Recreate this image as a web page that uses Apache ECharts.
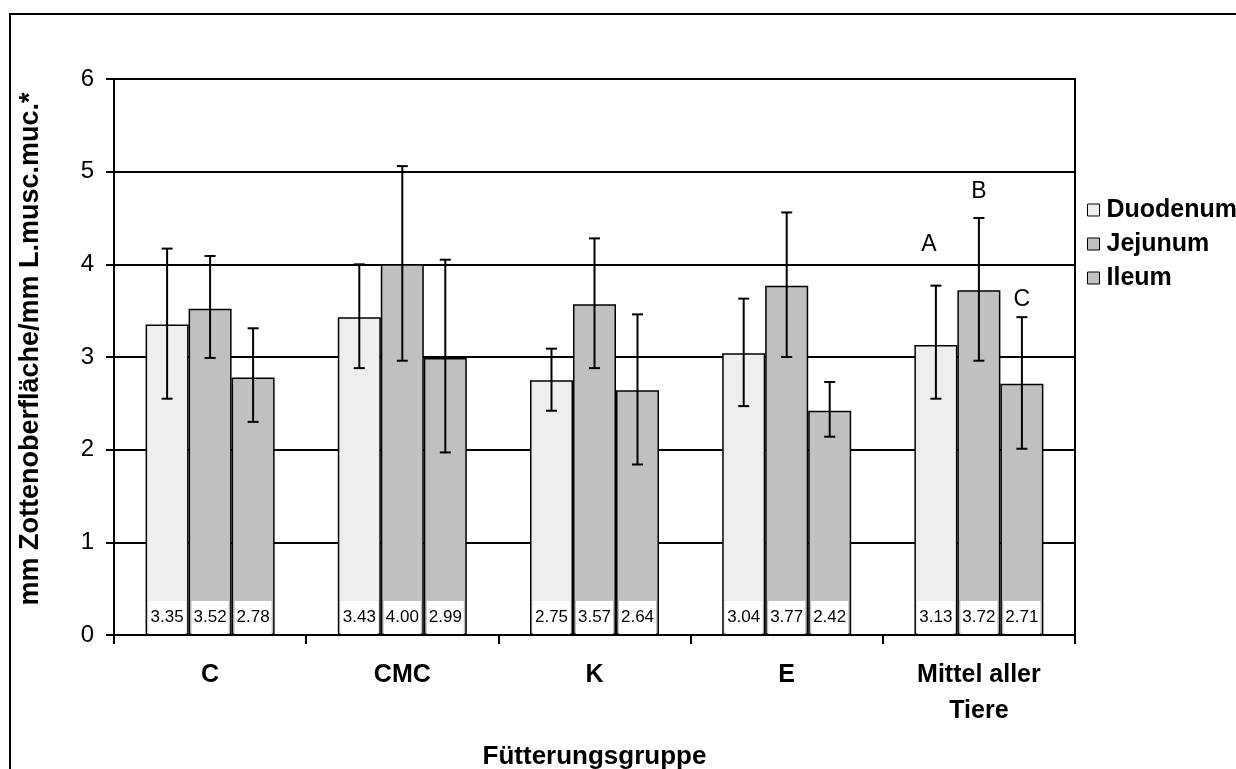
<!DOCTYPE html>
<html>
<head>
<meta charset="utf-8">
<script src="https://cdn.jsdelivr.net/npm/echarts@6/dist/echarts.min.js"></script>
<style>html,body{margin:0;padding:0;background:#fff}#c{width:1236px;height:769px}</style>
</head>
<body>
<div id="c"></div>
<script>
const categories = ['C', 'CMC', 'K', 'E', 'Mittel aller\nTiere'];
const seriesNames = ['Duodenum', 'Jejunum', 'Ileum'];
const duodenum = [3.35, 3.43, 2.75, 3.04, 3.13];
const jejunum  = [3.52, 4.00, 3.57, 3.77, 3.72];
const ileum    = [2.78, 2.99, 2.64, 2.42, 2.71];
// error bar ends (lower, upper)
const duodenumErr = [[2.55, 4.17], [2.88, 4.00], [2.42, 3.09], [2.47, 3.63], [2.55, 3.77]];
const jejunumErr  = [[2.99, 4.09], [2.96, 5.06], [2.88, 4.28], [3.00, 4.56], [2.96, 4.50]];
const ileumErr    = [[2.30, 3.31], [1.97, 4.05], [1.84, 3.46], [2.14, 2.73], [2.01, 3.43]];
// significance letters for "Mittel aller Tiere"
const sigLetters = ['A', 'B', 'C'];
const sigValues = [4.21, 4.78, 3.62];
const yTicks = [0, 1, 2, 3, 4, 5, 6];

const FONT = 'Liberation Sans, Arial, sans-serif';
const BAR_W = 43;
const colors = ['#eeeeee', '#c0c0c0', '#c0c0c0'];
const values = [duodenum, jejunum, ileum];
const errs = [duodenumErr, jejunumErr, ileumErr];

const barSeries = seriesNames.map((n, i) => ({
  name: n,
  type: 'bar',
  barWidth: BAR_W,
  barGap: '0%',
  data: values[i],
  itemStyle: { color: colors[i], borderColor: '#000', borderWidth: 1.5 },
  label: {
    show: true,
    position: 'insideBottom',
    distance: 1,
    formatter: p => p.value.toFixed(2),
    backgroundColor: '#fff',
    width: 37,
    height: 33,
    lineHeight: 33,
    align: 'center',
    fontSize: 17,
    fontFamily: FONT,
    color: '#000'
  },
  z: 2
}));

const errSeries = errs.map((e, i) => ({
  name: seriesNames[i] + ' err',
  type: 'custom',
  data: e.map((d, ci) => [ci, d[0], d[1]]),
  z: 5,
  silent: true,
  renderItem: (params, api) => {
    const ci = api.value(0);
    const lo = api.coord([ci, api.value(1)]);
    const hi = api.coord([ci, api.value(2)]);
    const x = lo[0] + (i - 1) * BAR_W;
    const cap = 5.5;
    const st = { stroke: '#000', lineWidth: 2 };
    return {
      type: 'group',
      children: [
        { type: 'line', shape: { x1: x, y1: lo[1], x2: x, y2: hi[1] }, style: st },
        { type: 'line', shape: { x1: x - cap, y1: lo[1], x2: x + cap, y2: lo[1] }, style: st },
        { type: 'line', shape: { x1: x - cap, y1: hi[1], x2: x + cap, y2: hi[1] }, style: st }
      ]
    };
  }
}));

const letterSeries = {
  name: 'letters',
  type: 'custom',
  data: sigLetters.map((l, i) => [categories.length - 1, sigValues[i], i]),
  z: 6,
  silent: true,
  renderItem: (params, api) => {
    const p = api.coord([api.value(0), api.value(1)]);
    const k = api.value(2);
    return {
      type: 'text',
      x: p[0] + (k - 1) * BAR_W - (k === 0 ? 7 : 0),
      y: p[1],
      style: { text: sigLetters[k], fontSize: 23, fontFamily: FONT, fill: '#000', align: 'center', verticalAlign: 'middle' }
    };
  }
};

const chart = echarts.init(document.getElementById('c'), null, { renderer: 'canvas' });
chart.setOption({
  animation: false,
  backgroundColor: '#fff',
  textStyle: { fontFamily: FONT },
  grid: { left: 114, right: 161, top: 79, bottom: 134, outerBoundsMode: 'none', containLabel: false, show: true, borderColor: '#000', borderWidth: 2, backgroundColor: 'transparent' },
  legend: {
    data: seriesNames,
    orient: 'vertical',
    left: 1082,
    top: 192,
    itemWidth: 12,
    itemHeight: 12,
    itemGap: 8,
    icon: 'rect',
    itemStyle: { borderColor: '#000', borderWidth: 1 },
    textStyle: { fontSize: 25, fontWeight: 'bold', color: '#000', fontFamily: FONT, lineHeight: 26, padding: [0, 0, 0, 2] }
  },
  xAxis: {
    type: 'category',
    data: categories,
    name: 'Fütterungsgruppe',
    nameLocation: 'middle',
    nameGap: 109,
    nameTextStyle: { fontSize: 26, fontWeight: 'bold', color: '#000', fontFamily: FONT },
    axisLine: { lineStyle: { color: '#000', width: 2 } },
    axisTick: { show: true, length: 9, lineStyle: { color: '#000', width: 2 } },
    axisLabel: { fontSize: 25, fontWeight: 'bold', color: '#000', margin: 22, lineHeight: 36, fontFamily: FONT, interval: 0 }
  },
  yAxis: {
    type: 'value',
    min: yTicks[0],
    max: yTicks[yTicks.length - 1],
    interval: 1,
    name: 'mm Zottenoberfläche/mm L.musc.muc.*',
    nameLocation: 'middle',
    nameGap: 70,
    nameTextStyle: { fontSize: 27, fontWeight: 'bold', color: '#000', fontFamily: FONT, padding: [0, 0, 0, 16] },
    axisLine: { show: true, lineStyle: { color: '#000', width: 2 } },
    axisTick: { show: true, length: 8, lineStyle: { color: '#000', width: 2 } },
    axisLabel: { fontSize: 24, color: '#000', margin: 20, fontFamily: FONT },
    splitLine: { show: true, lineStyle: { color: '#000', width: 2 } }
  },
  graphic: [{
    type: 'rect',
    shape: { x: 10, y: 14, width: 1400, height: 900 },
    style: { fill: 'none', stroke: '#000', lineWidth: 2 },
    silent: true
  }],
  series: [...barSeries, ...errSeries, letterSeries]
});
</script>
</body>
</html>
